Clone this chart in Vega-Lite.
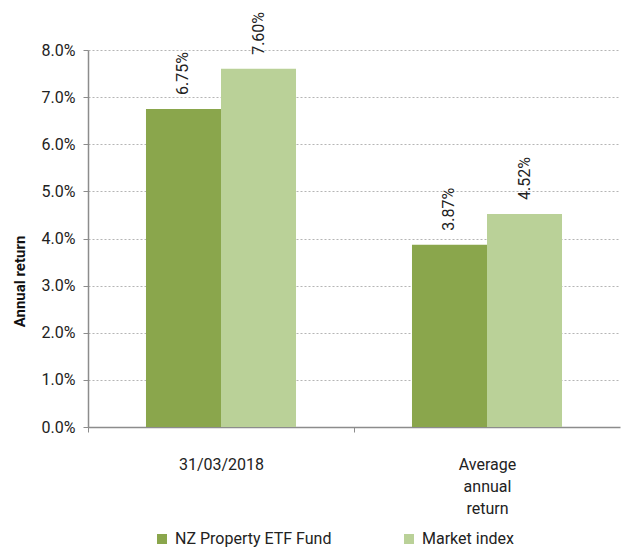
{
  "$schema": "https://vega.github.io/schema/vega-lite/v6.json",
  "width": 532,
  "height": 377,
  "autosize": "none",
  "padding": {"left": 88, "top": 50, "right": 2, "bottom": 120},
  "config": {
    "font": "Roboto",
    "view": {"stroke": null}
  },
  "data": {
    "values": [
      {"period": "31/03/2018", "series": "NZ Property ETF Fund", "value": 0.0675},
      {"period": "31/03/2018", "series": "Market index", "value": 0.076},
      {"period": "Average annual return", "series": "NZ Property ETF Fund", "value": 0.0387},
      {"period": "Average annual return", "series": "Market index", "value": 0.0452}
    ]
  },
  "encoding": {
    "x": {
      "field": "period",
      "type": "nominal",
      "sort": null,
      "scale": {"paddingInner": 0, "paddingOuter": 0},
      "axis": {
        "title": null,
        "labelAngle": 0,
        "labelFontSize": 16,
        "labelColor": "#222222",
        "labelPadding": 24,
        "labelLineHeight": 22,
        "labelBaseline": "top",
        "tickOffset": -133,
        "labelOffset": 133,
        "tickSize": 5,
        "tickColor": "#8c8c8c",
        "domainColor": "#8c8c8c",
        "domainWidth": 1.5,
        "labelExpr": "datum.label == 'Average annual return' ? ['Average', 'annual', 'return'] : datum.label"
      }
    },
    "xOffset": {
      "field": "series",
      "sort": ["NZ Property ETF Fund", "Market index"],
      "scale": {"paddingInner": 0, "paddingOuter": 0.773}
    },
    "y": {
      "field": "value",
      "type": "quantitative",
      "scale": {"domain": [0, 0.08], "nice": false},
      "axis": {
        "title": "Annual return",
        "titleFontSize": 15,
        "titleFontWeight": "bold",
        "titleColor": "#111111",
        "titlePadding": 14,
        "titleY": 231,
        "titleAlign": "center",
        "format": ".1%",
        "values": [0, 0.01, 0.02, 0.03, 0.04, 0.05, 0.06, 0.07, 0.08],
        "labelFontSize": 16,
        "labelColor": "#222222",
        "labelPadding": 8,
        "tickSize": 5,
        "tickColor": "#8c8c8c",
        "domainColor": "#8c8c8c",
        "domainWidth": 1.5,
        "grid": true,
        "gridColor": "#b5b5b5",
        "gridDash": [2, 2],
        "gridWidth": 1
      }
    }
  },
  "layer": [
    {
      "mark": {"type": "bar"},
      "encoding": {
        "color": {
          "field": "series",
          "type": "nominal",
          "sort": ["NZ Property ETF Fund", "Market index"],
          "scale": {"domain": ["NZ Property ETF Fund", "Market index"], "range": ["#8aa64c", "#bad198"]},
          "legend": {
            "title": null,
            "orient": "none",
            "direction": "horizontal",
            "legendX": 66,
            "legendY": 481,
            "symbolType": "square",
            "symbolSize": 100,
            "symbolStrokeWidth": 0,
            "labelFontSize": 16,
            "labelColor": "#222222",
            "labelOffset": 5,
            "columnPadding": 69
          }
        }
      }
    },
    {
      "mark": {"type": "text", "angle": 270, "align": "left", "baseline": "middle", "dx": 14, "fontSize": 16, "color": "#222222"},
      "encoding": {
        "text": {"field": "value", "type": "quantitative", "format": ".2%"}
      }
    }
  ]
}
